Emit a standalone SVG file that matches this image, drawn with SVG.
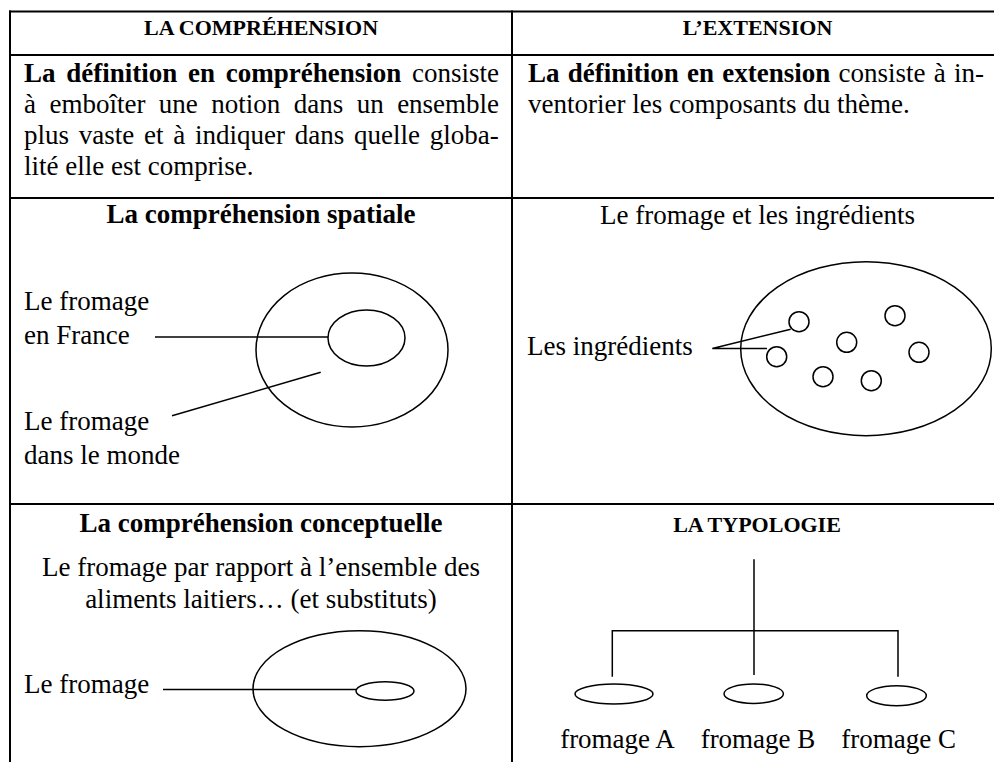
<svg xmlns="http://www.w3.org/2000/svg" width="994" height="762" viewBox="0 0 994 762">
<style>
.grid{stroke:#000;stroke-width:2;fill:none}
.shape{stroke:#000;stroke-width:1.5;fill:none}
.conn{stroke:#000;stroke-width:1.5;fill:none}
.hd{font-family:"Liberation Serif","Times New Roman",serif;font-size:22px;font-weight:bold;fill:#000}
.t27{font-family:"Liberation Serif","Times New Roman",serif;font-size:27px;fill:#000}
.bf{font-weight:bold}
.mid{text-anchor:middle}
</style>
<rect width="994" height="762" fill="#fff"/>
<g id="table">
<line class="grid" x1="9" y1="11.5" x2="1003" y2="11.5"/>
<line class="grid" x1="9" y1="55" x2="1003" y2="55"/>
<line class="grid" x1="9" y1="198" x2="1003" y2="198"/>
<line class="grid" x1="9" y1="504" x2="1003" y2="504"/>
<line class="grid" x1="10" y1="10.5" x2="10" y2="762"/>
<line class="grid" x1="512" y1="10.5" x2="512" y2="762"/>
</g>
<g id="header-comprehension"><text class="hd mid" x="261" y="35">LA COMPRÉHENSION</text></g>
<g id="header-extension"><text class="hd mid" x="757.5" y="35">L’EXTENSION</text></g>
<g id="def-comprehension">
<text class="t27" x="24" y="81.5" style="word-spacing:4px"><tspan class="bf">La définition en compréhension</tspan> consiste</text>
<text class="t27" x="24" y="112.5" style="word-spacing:6.7px">à emboîter une notion dans un ensemble</text>
<text class="t27" x="24" y="143.5" style="word-spacing:3px">plus vaste et à indiquer dans quelle globa-</text>
<text class="t27" x="24" y="174.5">lité elle est comprise.</text>
</g>
<g id="def-extension">
<text class="t27" x="528" y="81.5" style="word-spacing:1.5px"><tspan class="bf">La définition en extension</tspan> consiste à in-</text>
<text class="t27" x="528" y="112.5">ventorier les composants du thème.</text>
</g>
<g id="spatial">
<text class="t27 bf mid" x="261" y="223">La compréhension spatiale</text>
<text class="t27" x="24" y="310">Le fromage</text>
<text class="t27" x="24" y="344">en France</text>
<text class="t27" x="24" y="430">Le fromage</text>
<text class="t27" x="24" y="464">dans le monde</text>
<ellipse id="monde" class="shape" cx="352" cy="350" rx="96" ry="77"/>
<ellipse id="france" class="shape" cx="366.5" cy="338" rx="38.5" ry="28"/>
</g>
<g id="ingredients">
<text class="t27 mid" x="757.5" y="224">Le fromage et les ingrédients</text>
<text class="t27" x="527" y="355">Les ingrédients</text>
<ellipse class="shape" cx="866" cy="348.7" rx="125.3" ry="87"/>
<circle class="shape" cx="799" cy="321.7" r="10"/>
<circle class="shape" cx="776.7" cy="356.7" r="10"/>
<circle class="shape" cx="895" cy="315.7" r="10"/>
<circle class="shape" cx="846.7" cy="342.3" r="10"/>
<circle class="shape" cx="919" cy="352.3" r="10"/>
<circle class="shape" cx="823" cy="376.7" r="10"/>
<circle class="shape" cx="871.3" cy="380.7" r="10"/>
</g>
<g id="conceptuelle">
<text class="t27 bf mid" x="261" y="532">La compréhension conceptuelle</text>
<text class="t27 mid" x="261" y="576">Le fromage par rapport à l’ensemble des</text>
<text class="t27 mid" x="261" y="607.5">aliments laitiers… (et substituts)</text>
<text class="t27" x="24" y="693">Le fromage</text>
<ellipse class="shape" cx="359.5" cy="688.7" rx="106.5" ry="58"/>
<ellipse class="shape" cx="385" cy="691" rx="29" ry="9.3"/>
</g>
<g id="typologie">
<text class="hd mid" x="757" y="532">LA TYPOLOGIE</text>
<ellipse class="shape" cx="614" cy="694" rx="39" ry="10"/>
<ellipse class="shape" cx="753.7" cy="693.7" rx="29.7" ry="9.7"/>
<ellipse class="shape" cx="896.5" cy="695.7" rx="29.8" ry="10"/>
<text class="t27 mid" x="617.5" y="748.3">fromage A</text>
<text class="t27 mid" x="758" y="748.3">fromage B</text>
<text class="t27 mid" x="898.7" y="748.3">fromage C</text>
</g>
<g id="connectors">
<line class="conn" x1="155" y1="337" x2="328" y2="337"/>
<line class="conn" x1="172" y1="415.7" x2="320.7" y2="372.3"/>
<polyline class="conn" points="790.7,329.3 712.3,348.5 767,348.5"/>
<line class="conn" x1="163" y1="689.5" x2="356" y2="689.5"/>
<line class="conn" x1="754" y1="559.3" x2="754" y2="675"/>
<polyline class="conn" points="612.3,676.7 612.3,630.7 898,630.7 898,676.7"/>
</g>
</svg>
